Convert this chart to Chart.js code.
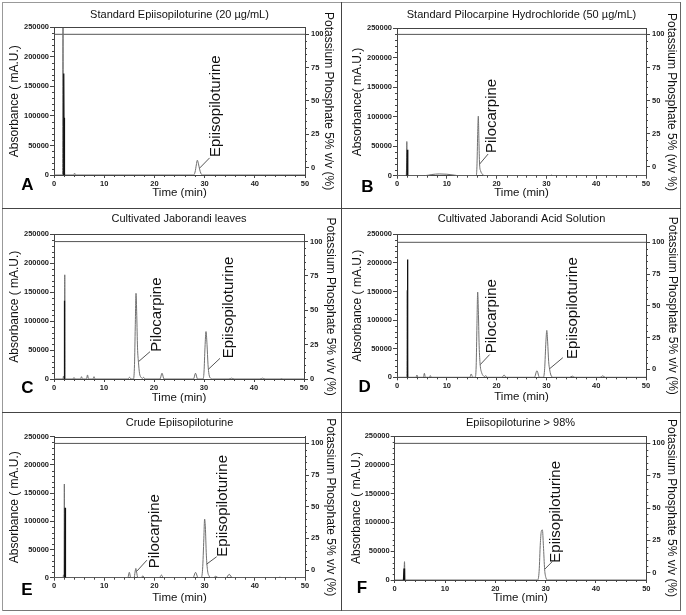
<!DOCTYPE html>
<html><head><meta charset="utf-8">
<script src="https://cdn.jsdelivr.net/npm/chart.js@4.4.0/dist/chart.umd.min.js"></script>
<style>
html,body{margin:0;padding:0;background:#fff;}
#wrap{position:relative;width:686px;height:615px;background:#fff;overflow:hidden;}
#wrap canvas{position:absolute;}
.ln{position:absolute;}
.lt{position:absolute;font:bold 17px "Liberation Sans",Arial,sans-serif;color:#000;transform:translate(-50%,-50%);line-height:1;}
</style></head><body><div id="wrap"></div>
<script>
// ---------- tick labels ----------
const timeTicks = [0, 10, 20, 30, 40, 50];
const absTicks = [0, 50000, 100000, 150000, 200000, 250000];
const gradTicks = [0, 25, 50, 75, 100];
// ---------- gradient (right axis) ----------
const gradTime = [0, 50];
const gradValue = [100, 100];

// ---------- panel A : Standard Epiisopiloturine ----------
const timeA = [0, 1.7, 1.8, 1.86, 1.92, 2.0, 2.1, 2.3,
  3.9, 4.1, 4.3,
  27.8, 28.1, 28.35, 28.55, 28.75, 29.0, 29.25, 29.6,
  50];
const absA = [0, 0, 300000, 0, 8000, 12000, 3000, 0,
  0, 3000, 0,
  0, 5000, 17000, 25000, 20000, 10000, 3000, 0,
  0];
const spikeTimeA = [1.85, 1.9, 1.94, 1.98, 2.02, 2.06, 2.1];
const spikeA = [0, 148000, 10000, 172000, 10000, 97000, 0];

// ---------- panel B : Standard Pilocarpine Hydrochloride ----------
const timeB = [0, 1.8, 1.9, 1.97, 2.05, 2.2,
  5.5, 7, 8.5, 10, 11.5, 12.5,
  15.9, 16.05, 16.2, 16.33, 16.45, 16.58, 16.8, 17.1, 17.6,
  30.8, 31.0, 31.2,
  50];
const absB = [0, 0, 8000, 58000, 3000, 0,
  0, 2000, 3000, 2500, 1000, 0,
  0, 15000, 70000, 101000, 60000, 20000, 8000, 3000, 0,
  0, 1000, 0,
  0];
const spikeTimeB = [2.0, 2.08, 2.16];
const spikeB = [0, 44000, 0];

// ---------- panel C : Cultivated Jaborandi leaves ----------
const timeC = [0, 1.8, 1.9, 2.0, 2.1, 2.15, 2.2,
  3.8, 4.0, 4.2,
  5.3, 5.5, 5.7,
  6.5, 6.7, 6.9,
  7.8, 8.0, 8.2,
  14.8, 15.1, 15.4,
  15.9, 16.1, 16.25, 16.4, 16.55, 16.7, 16.9, 17.1, 17.4, 17.7, 17.9, 18.2,
  21.2, 21.6, 22.0,
  27.9, 28.3, 28.7,
  29.8, 30.0, 30.2, 30.4, 30.6, 30.8, 31.0, 31.3, 31.8,
  35.0, 35.5, 36.0,
  41.2, 41.7, 42.2,
  45.2, 45.5, 45.8,
  50];
const absC = [0, 0, 5000, 0, 0, 180000, 0,
  0, 2500, 0,
  0, 4000, 0,
  0, 7000, 0,
  0, 4000, 0,
  0, 3000, 0,
  0, 25000, 90000, 148000, 110000, 55000, 28000, 10000, 3000, 1000, 3000, 0,
  0, 10000, 0,
  0, 10000, 0,
  0, 12000, 55000, 82000, 60000, 25000, 8000, 1500, 0,
  0, 1500, 0,
  0, 1500, 0,
  0, 800, 0,
  0];
const spikeTimeC = [2.0, 2.07, 2.14];
const spikeC = [0, 135000, 0];

// ---------- panel D : Cultivated Jaborandi Acid Solution ----------
const timeD = [0, 1.9, 1.97, 2.05, 2.15,
  3.8, 4.0, 4.2,
  5.3, 5.5, 5.7,
  6.5, 6.7, 6.9,
  14.6, 14.9, 15.2,
  15.7, 15.9, 16.05, 16.2, 16.35, 16.5, 16.7, 17.0, 17.3, 17.6, 17.8, 18.1,
  21.1, 21.5, 21.9,
  27.6, 28.1, 28.6,
  29.4, 29.65, 29.9, 30.08, 30.25, 30.45, 30.65, 30.9, 31.4,
  34.7, 35.2, 35.7,
  40.8, 41.3, 41.8,
  50];
const absD = [0, 0, 4000, 152000, 0,
  0, 4000, 0,
  0, 7000, 0,
  0, 3000, 0,
  0, 5800, 0,
  0, 20000, 90000, 149000, 110000, 55000, 22000, 8000, 3000, 1000, 3000, 0,
  0, 4000, 0,
  0, 11600, 0,
  0, 15000, 62000, 82000, 62000, 28000, 14000, 4000, 0,
  0, 2000, 0,
  0, 2500, 0,
  0];
const spikeTimeD = [2.02, 2.1, 2.18];
const spikeD = [0, 206000, 0];

// ---------- panel E : Crude Epiisopiloturine ----------
const timeE = [0, 1.8, 1.9, 2.0, 2.06, 2.13,
  14.7, 15.0, 15.3,
  15.95, 16.15, 16.3, 16.45, 16.7,
  17.4, 17.7, 18.0,
  21.0, 21.4, 21.8,
  27.7, 28.2, 28.7,
  29.3, 29.6, 29.85, 30.0, 30.15, 30.35, 30.6, 30.9, 31.3,
  31.8, 32.2, 32.7,
  34.3, 34.9, 35.5,
  44.7, 45.0, 45.3,
  50];
const absE = [0, 0, 5000, 0, 166000, 0,
  0, 9500, 0,
  0, 10000, 16500, 10000, 0,
  0, 3500, 0,
  0, 4700, 0,
  0, 9500, 0,
  0, 15000, 70000, 104000, 90000, 40000, 12000, 3000, 0,
  0, 2500, 0,
  0, 6000, 0,
  0, 1000, 0,
  0];
const spikeTimeE = [2.12, 2.2, 2.28];
const spikeE = [0, 124000, 0];

// ---------- panel F : Epiisopiloturine > 98% ----------
const timeF = [0, 1.8, 1.95, 2.05, 2.2,
  28.4, 28.7, 28.95, 29.15, 29.35, 29.55, 29.8, 30.05, 30.4,
  50];
const absF = [0, 0, 31800, 0, 0,
  0, 15000, 65000, 85000, 87000, 60000, 18000, 4000, 0,
  0];
const spikeTimeF = [1.75, 1.85, 1.95];
const spikeF = [0, 20000, 0];

// ---------- texts ----------
const panelTitles = ['Standard Epiisopiloturine (20 µg/mL)', 'Standard Pilocarpine Hydrochloride (50 µg/mL)',
  'Cultivated Jaborandi leaves', 'Cultivated Jaborandi Acid Solution', 'Crude Epiisopiloturine', 'Epiisopiloturine > 98%'];
const panelLetters = ['A', 'B', 'C', 'D', 'E', 'F'];
const leftTitles = ['Absorbance ( mA.U.)', 'Absorbance( mA.U.)', 'Absorbance ( mA.U.)', 'Absorbance ( mA.U.)', 'Absorbance ( mA.U.)', 'Absorbance ( mA.U.)'];
const rightTitles = ['Potassium Phosphate 5% v/v (%)', 'Potassium Phosphate 5% (v/v %)', 'Potassium Phosphate 5% v/v (%)',
  'Potassium Phosphate 5% v/v (%)', 'Potassium Phosphate 5% v/v (%)', 'Potassium Phosphate 5% v/v (%)'];
const xTitle = 'Time (min)';

// ---------- peak annotations (anchored in data coordinates) ----------
const peakLabels = [
  [{text: 'Epiisopiloturine', from: [29.05, 12000], to: [31.0, 29000], at: [32.3, 30400]}],
  [{text: 'Pilocarpine', from: [16.6, 19800], to: [18.3, 36800], at: [19.1, 38500]}],
  [{text: 'Pilocarpine', from: [16.9, 30000], to: [19.2, 47200], at: [20.5, 47200]},
   {text: 'Epiisopiloturine', from: [30.9, 17000], to: [33.2, 35700], at: [34.9, 35700]}],
  [{text: 'Pilocarpine', from: [16.7, 22000], to: [18.6, 39700], at: [19.1, 42000]},
   {text: 'Epiisopiloturine', from: [30.65, 15000], to: [33.3, 34300], at: [35.3, 32000]}],
  [{text: 'Pilocarpine', from: [16.55, 12000], to: [18.5, 31000], at: [20.1, 16700]},
   {text: 'Epiisopiloturine', from: [30.4, 24000], to: [32.4, 37200], at: [33.6, 37200]}],
  [{text: 'Epiisopiloturine', from: [29.8, 18600], to: [31.3, 31800], at: [32.1, 30000]}]
];

// ---------- layout (positions only) ----------
const layout = [
  {x: 3, y: 3, w: 338, h: 205, area: [51, 24.3, 302, 172], titleC: 12, xTitleC: 190, lPad: 4.8, rPad: 5.5, gr: [-5.5, 105.25], letter: [27.5, 184]},
  {x: 342, y: 3, w: 338, h: 205, area: [55, 25.3, 304, 172.7], titleC: 12, xTitleC: 190.3, lPad: 8.8, rPad: 1.5, gr: [-6.8, 104.6], letter: [367.5, 186]},
  {x: 3, y: 209, w: 338, h: 203, area: [51, 25.3, 301, 170], titleC: 10, xTitleC: 188.7, lPad: 4.8, rPad: 3.8, gr: [0, 105.3], letter: [27.5, 387]},
  {x: 342, y: 209, w: 338, h: 203, area: [55, 25.3, 304, 168.3], titleC: 10, xTitleC: 188.3, lPad: 8.8, rPad: 0.2, gr: [-6.3, 106.3], letter: [364.7, 386]},
  {x: 3, y: 413, w: 338, h: 197, area: [51, 23.7, 302, 164.7], titleC: 10.3, xTitleC: 184.7, lPad: 4.8, rPad: 3.8, gr: [-6.05, 105.3], letter: [27, 589]},
  {x: 342, y: 413, w: 338, h: 197, area: [52.7, 23, 304.3, 167], titleC: 9.7, xTitleC: 185.3, lPad: 7.1, rPad: 1.5, gr: [-5.7, 105.7], letter: [362, 587]}
];
const traces = [[timeA, absA, spikeTimeA, spikeA], [timeB, absB, spikeTimeB, spikeB], [timeC, absC, spikeTimeC, spikeC],
  [timeD, absD, spikeTimeD, spikeD], [timeE, absE, spikeTimeE, spikeE], [timeF, absF, spikeTimeF, spikeF]];

const FAM = '"Liberation Sans", Arial, Helvetica, sans-serif';
const tickFont = {family: FAM, size: 7.5, weight: 'bold'};
const AX = '#444';
const plain = v => String(v);
const wrap = document.getElementById('wrap');

function makeDecor(labels) {
  return {
    id: 'decor',
    afterDraw(chart) {
      const {ctx, chartArea: a, scales} = chart;
      const x = scales.x, y = scales.y, y2 = scales.y2;
      ctx.save();
      ctx.strokeStyle = AX; ctx.lineWidth = 1;
      ctx.beginPath();
      const ty = Math.round(a.top) + 0.5;
      ctx.moveTo(a.left, ty); ctx.lineTo(a.right, ty);
      // minor ticks
      for (let v = 10000; v < 250000; v += 10000) {
        if (v % 50000 === 0) continue;
        const py = Math.round(y.getPixelForValue(v)) + 0.5;
        ctx.moveTo(a.left - 2, py); ctx.lineTo(a.left, py);
      }
      for (let v = 2; v < 50; v += 2) {
        if (v % 10 === 0) continue;
        const px = Math.round(x.getPixelForValue(v)) + 0.5;
        ctx.moveTo(px, a.bottom); ctx.lineTo(px, a.bottom + 2);
      }
      for (let v = 5; v < 100; v += 5) {
        if (v % 25 === 0) continue;
        const py = Math.round(y2.getPixelForValue(v)) + 0.5;
        ctx.moveTo(a.right, py); ctx.lineTo(a.right + 2, py);
      }
      ctx.stroke();
      labels.forEach(l => {
        ctx.strokeStyle = '#555'; ctx.lineWidth = 1;
        ctx.beginPath();
        ctx.moveTo(x.getPixelForValue(l.from[0]), y.getPixelForValue(l.from[1]));
        ctx.lineTo(x.getPixelForValue(l.to[0]), y.getPixelForValue(l.to[1]));
        ctx.stroke();
        ctx.save();
        ctx.translate(x.getPixelForValue(l.at[0]), y.getPixelForValue(l.at[1]));
        ctx.rotate(-Math.PI / 2);
        ctx.font = '15px ' + FAM;
        ctx.fillStyle = '#111';
        ctx.textAlign = 'left'; ctx.textBaseline = 'middle';
        ctx.fillText(l.text, 0, 0);
        ctx.restore();
      });
      ctx.restore();
    }
  };
}

layout.forEach((L, i) => {
  const cv = document.createElement('canvas');
  cv.width = L.w; cv.height = L.h;
  cv.style.left = L.x + 'px'; cv.style.top = L.y + 'px';
  wrap.appendChild(cv);
  const [aL, aT, aR, aB] = L.area;
  const tPadTop = L.titleC - 6.6;
  const tPadBottom = aT - 13.2 - tPadTop;
  const [tt, vv, st, sv] = traces[i];
  new Chart(cv, {
    type: 'line',
    data: {
      datasets: [
        {data: tt.map((t, k) => ({x: t, y: vv[k]})), yAxisID: 'y', borderColor: '#707070', borderWidth: 1,
         pointRadius: 0, cubicInterpolationMode: 'monotone', order: 2},
        {data: st.map((t, k) => ({x: t, y: sv[k]})), yAxisID: 'y', borderColor: '#111', borderWidth: 1.3,
         pointRadius: 0, tension: 0, order: 1},
        {data: gradTime.map((t, k) => ({x: t, y: gradValue[k]})), yAxisID: 'y2', borderColor: '#555', borderWidth: 1,
         pointRadius: 0, tension: 0, order: 3}
      ]
    },
    options: {
      responsive: false, animation: false, devicePixelRatio: 1,
      layout: {padding: 0},
      plugins: {
        legend: {display: false}, tooltip: {enabled: false},
        title: {display: true, text: panelTitles[i], fullSize: false, color: '#111',
          font: {family: FAM, size: 11, weight: 'normal', lineHeight: 1.2},
          padding: {top: tPadTop, bottom: tPadBottom}}
      },
      scales: {
        x: {type: 'linear', position: 'bottom', min: 0, max: 50,
          afterBuildTicks: s => { s.ticks = timeTicks.map(v => ({value: v})); },
          afterFit: s => { s.height = L.h - aB; },
          ticks: {font: tickFont, color: '#222', padding: 1, maxRotation: 0, autoSkip: false, callback: plain},
          grid: {drawOnChartArea: false, tickLength: 3, color: AX, tickColor: AX},
          border: {color: AX, width: 1},
          title: {display: true, text: xTitle, color: '#111', font: {family: FAM, size: 11.5, lineHeight: 1.2},
            padding: {top: 0, bottom: (L.h - L.xTitleC) - 6.9}}
        },
        y: {type: 'linear', position: 'left', min: 0, max: 250000,
          afterBuildTicks: s => { s.ticks = absTicks.map(v => ({value: v})); },
          afterFit: s => { s.width = aL; },
          ticks: {font: tickFont, color: '#222', padding: 1, autoSkip: false, callback: plain},
          grid: {drawOnChartArea: false, tickLength: 4, color: AX, tickColor: AX},
          border: {color: AX, width: 1},
          title: {display: true, text: leftTitles[i], color: '#111', font: {family: FAM, size: 12, lineHeight: 1.2},
            padding: {top: L.lPad, bottom: 0}}
        },
        y2: {type: 'linear', position: 'right', min: L.gr[0], max: L.gr[1],
          afterBuildTicks: s => { s.ticks = gradTicks.map(v => ({value: v})); },
          afterFit: s => { s.width = L.w - aR; },
          ticks: {font: tickFont, color: '#222', padding: 2, autoSkip: false, callback: plain},
          grid: {drawOnChartArea: false, tickLength: 4, color: AX, tickColor: AX},
          border: {color: AX, width: 1},
          title: {display: true, text: rightTitles[i], color: '#111', font: {family: FAM, size: 12, lineHeight: 1.2},
            padding: {top: L.rPad, bottom: 0}}
        }
      }
    },
    plugins: [makeDecor(peakLabels[i])]
  });
  const lt = document.createElement('div');
  lt.className = 'lt'; lt.textContent = panelLetters[i];
  lt.style.left = L.letter[0] + 'px'; lt.style.top = L.letter[1] + 'px';
  wrap.appendChild(lt);
});

// panel frame lines
function line(x, y, w, h, c) {
  const d = document.createElement('div');
  d.className = 'ln';
  d.style.cssText = `left:${x}px;top:${y}px;width:${w}px;height:${h}px;background:${c}`;
  wrap.appendChild(d);
}
line(2, 2, 679, 1, '#999');
line(2, 610, 679, 1, '#777');
line(2, 2, 1, 609, '#999');
line(680, 2, 1, 609, '#666');
line(341, 2, 1, 609, '#444');
line(2, 208, 679, 1, '#444');
line(2, 412, 679, 1, '#444');
</script></body></html>
